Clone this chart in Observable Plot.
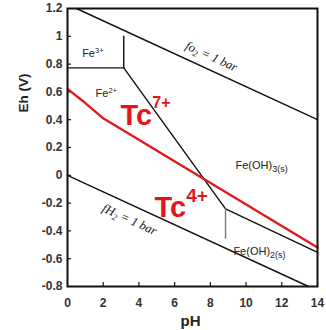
<!DOCTYPE html>
<html><head><meta charset="utf-8">
<script src="https://cdn.jsdelivr.net/npm/d3@7"></script>
<script src="https://cdn.jsdelivr.net/npm/@observablehq/plot@0.6"></script>
<style>
html,body{margin:0;padding:0;background:#fff;}
</style>
</head><body>
<div id="chart"></div>
<script>
// ---- data ----
const xTicks = [0, 2, 4, 6, 8, 10, 12, 14];
const yTicks = [-0.8, -0.6, -0.4, -0.2, 0, 0.2, 0.4, 0.6, 0.8, 1, 1.2];

// boundaries as [pH, Eh] points
const fO2Line = [[0.5, 1.2], [14, 0.40]];
const fH2Line = [[0, 0], [13.5, -0.8]];
const fe3Fe2 = [[0, 0.773], [3.15, 0.773]];
const fe3FeOH3 = [[3.15, 0.773], [3.15, 1.0]];
const fe2FeOH3 = [[3.15, 0.773], [8.85, -0.241]];
const feOH3FeOH2 = [[8.85, -0.241], [14, -0.555]];
const fe2FeOH2 = [[8.85, -0.241], [8.85, -0.452]];
const tcLine = [[0, 0.622], [1, 0.52], [2, 0.41], [14, -0.52]];

// labels (^{} superscript, _{} subscript)
const feLabelText = ["Fe^{3+}", "Fe^{2+}", "Fe(OH)_{3(s)}", "Fe(OH)_{2(s)}"];
const feLabelPH = [0.82, 1.57, 9.41, 9.29];
const feLabelEh = [0.85, 0.562, 0.047, -0.572];

const tcLabelText = ["Tc^{7+}", "Tc^{4+}"];
const tcLabelPH = [2.97, 4.87];
const tcLabelEh = [0.365, -0.301];

const gasLabelText = ["fo_{2} = 1 bar", "fH_{2} = 1 bar"];
const gasLabelPH = [8.06, 3.47];
const gasLabelEh = [0.855, -0.318];

const xLabel = "pH";
const yLabel = "Eh (V)";

// ---- helpers ----
const markup = /([\^_])\{([^}]*)\}/g;
const plain = s => s.replace(markup, "$2");
const rows = (t, px, py) => t.map((s, i) => ({text: s, pH: px[i], Eh: py[i]}));

function richify(group, texts, st) {
  d3.select(group).selectAll("text").each(function(_, i) {
    const src = texts[i];
    const el = d3.select(this);
    el.text(null);
    const segs = [];
    let last = 0, m;
    markup.lastIndex = 0;
    while ((m = markup.exec(src))) {
      if (m.index > last) segs.push({t: src.slice(last, m.index), k: "n"});
      segs.push({t: m[2], k: m[1] === "^" ? "sup" : "sub"});
      last = markup.lastIndex;
    }
    if (last < src.length) segs.push({t: src.slice(last), k: "n"});
    let cur = 0;
    segs.forEach(s => {
      const off = s.k === "sup" ? st.supDy[i] : s.k === "sub" ? st.subDy[i] : 0;
      const ts = el.append("tspan").text(s.t);
      if (off - cur) ts.attr("dy", off - cur);
      if (s.k !== "n") ts.attr("font-size", s.k === "sup" ? st.supSize[i] : st.subSize[i]);
      cur = off;
    });
  });
}

const W = 326, H = 330, mL = 67, mR = 9, mT = 8, mB = 44;
const plotW = W - mL - mR, plotH = H - mT - mB;
const sans = "'Liberation Sans', Arial, Helvetica, sans-serif";
const serif = "'Liberation Serif', 'Times New Roman', serif";

const black = {x: d => d[0], y: d => d[1], stroke: "#111", strokeWidth: 1.4};

const chart = Plot.plot({
  width: W, height: H,
  marginLeft: mL, marginRight: mR, marginTop: mT, marginBottom: mB,
  x: {domain: [0, 14]},
  y: {domain: [-0.8, 1.2]},
  style: {fontFamily: sans, background: "white"},
  marks: [
    Plot.axisX({ticks: xTicks, tickSize: 0, tickPadding: 12, tickFormat: d => String(d),
      fontSize: 12, fontWeight: "bold", color: "#333", label: null}),
    Plot.axisY({ticks: yTicks, tickSize: 0, tickPadding: 5, tickFormat: d => String(d),
      fontSize: 12, fontWeight: "bold", color: "#333", label: null}),
    Plot.ruleX(xTicks.slice(1, -1), {stroke: "#111", strokeWidth: 1.2, insetTop: plotH - 4}),
    Plot.ruleY(yTicks.slice(1, -1), {stroke: "#111", strokeWidth: 1.2, insetRight: plotW - 4}),
    Plot.line(fO2Line, black),
    Plot.line(fH2Line, black),
    Plot.line(fe3Fe2, black),
    Plot.line(fe3FeOH3, black),
    Plot.line(fe2FeOH3, black),
    Plot.line(feOH3FeOH2, black),
    Plot.line(fe2FeOH2, {...black, stroke: "#777"}),
    Plot.line(tcLine, {x: d => d[0], y: d => d[1], stroke: "#e3161b", strokeWidth: 2.3}),
    Plot.text(rows(feLabelText, feLabelPH, feLabelEh), {
      x: "pH", y: "Eh", text: d => plain(d.text), textAnchor: "start", lineAnchor: "bottom",
      fontSize: 11, fill: "#222"}),
    Plot.text(rows(tcLabelText, tcLabelPH, tcLabelEh), {
      x: "pH", y: "Eh", text: d => plain(d.text), textAnchor: "start", lineAnchor: "bottom",
      fontSize: 29, fontWeight: "bold", fill: "#e3161b"}),
    Plot.text(rows(gasLabelText, gasLabelPH, gasLabelEh), {
      x: "pH", y: "Eh", text: d => plain(d.text), textAnchor: "middle", lineAnchor: "middle",
      rotate: 24.7, fontSize: 12.5, fontStyle: "italic", fontFamily: serif, fill: "#111"}),
    Plot.text([yLabel], {text: d => d, frameAnchor: "left", dx: -44, dy: -35, rotate: -90,
      fontSize: 13.5, fontWeight: "bold", fill: "#222", lineAnchor: "middle"}),
    Plot.text([xLabel], {text: d => d, frameAnchor: "bottom", dx: -2, dy: 34.5,
      fontSize: 15, fontWeight: "bold", fill: "#222", lineAnchor: "middle"}),
    Plot.frame({stroke: "#111", strokeWidth: 2})
  ]
});

const textGroups = chart.querySelectorAll('g[aria-label="text"]');
richify(textGroups[0], feLabelText,
  {supDy: [-4, -4, 0, 0], subDy: [0, 0, 3, 3], supSize: [7.5, 7.5, 0, 0], subSize: [0, 0, 9, 9]});
richify(textGroups[1], tcLabelText,
  {supDy: [-17, -15], subDy: [0, 0], supSize: [16, 19], subSize: [0, 0]});
richify(textGroups[2], gasLabelText,
  {supDy: [0, 0], subDy: [3, 3], supSize: [0, 0], subSize: [9, 9]});

document.getElementById("chart").appendChild(chart);
</script>
</body></html>
